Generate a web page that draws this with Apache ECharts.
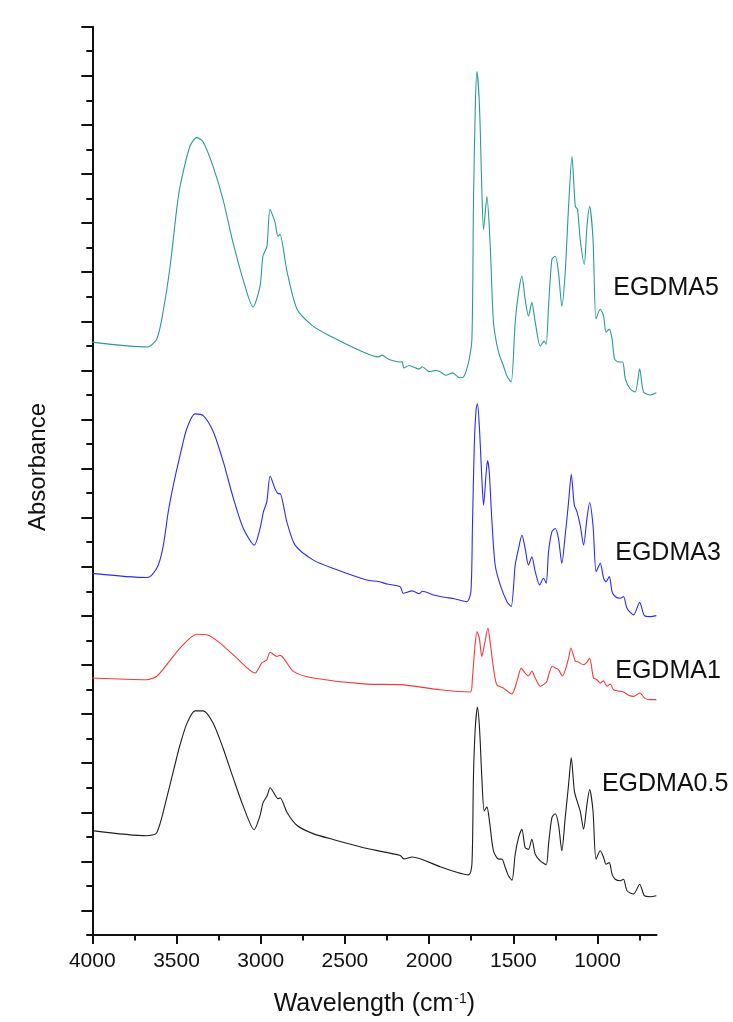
<!DOCTYPE html>
<html><head><meta charset="utf-8">
<script src="https://cdn.jsdelivr.net/npm/echarts@6/dist/echarts.min.js"></script>
<style>html,body{margin:0;padding:0;background:#fff}#c{width:733px;height:1022px}</style>
</head><body><div id="c"></div>
<script>
// ---------- data ----------
const seriesNames = ['EGDMA5', 'EGDMA3', 'EGDMA1', 'EGDMA0.5'];
const xMajorTicks = [4000, 3500, 3000, 2500, 2000, 1500, 1000];
const xMinorTicks = [3750, 3250, 2750, 2250, 1750, 1250, 750];

const egdma5Wn  = [4000,3675,3617,3580,3538,3499,3479,3421,3380,3343,3283,3224,3165,3105,3046,3004,2987,2963,2945,2915,2898,2886,2843,2784,2689,2588,2392,2300,2280,2240,2172,2160,2150,2120,2060,2040,2000,1960,1934,1900,1860,1820,1796,1766,1746,1737,1726,1716,1701,1687,1677,1657,1637,1618,1588,1558,1538,1513,1489,1469,1449,1430,1410,1390,1370,1340,1317,1305,1291,1271,1251,1232,1212,1192,1172,1152,1132,1119,1103,1079,1063,1047,1027,1009,984,964,950,930,914,899,875,851,835,806,776,750,727,687,651];
const egdma5Abs = [24.15,23.95,24.28,25.37,27.24,29.56,30.49,32.12,32.48,32.32,31.31,29.97,28.22,26.71,25.58,26.43,27.65,28.05,29.56,29.03,28.46,28.54,27.00,25.49,24.80,24.40,23.75,23.55,23.62,23.45,23.34,23.35,23.10,23.20,23.05,23.15,22.95,23.00,22.94,22.80,22.90,22.70,22.73,23.34,24.28,29.68,33.74,35.17,33.74,30.36,28.74,30.08,28.05,24.96,23.74,23.17,22.77,22.53,24.96,26.18,26.83,25.90,25.21,25.77,24.96,23.99,24.19,24.07,25.61,27.52,27.65,27.00,25.61,27.00,29.68,31.71,29.68,29.56,28.34,27.32,28.86,29.68,28.34,25.09,25.49,25.21,24.56,24.68,24.28,23.47,23.34,23.34,22.65,22.24,22.12,23.06,22.12,22.00,22.09];

const egdma3Wn  = [4000,3677,3647,3608,3578,3549,3519,3479,3439,3390,3341,3281,3222,3162,3103,3038,3004,2984,2964,2944,2915,2895,2885,2845,2796,2687,2568,2370,2300,2250,2172,2154,2100,2060,2040,1974,1934,1900,1850,1776,1752,1743,1732,1721,1713,1701,1687,1677,1661,1653,1643,1627,1608,1578,1538,1513,1489,1469,1449,1430,1410,1390,1370,1344,1321,1305,1291,1271,1251,1232,1212,1192,1172,1156,1138,1122,1103,1083,1063,1047,1027,1008,984,964,950,930,914,895,865,846,825,786,750,722,687,651];
const egdma3Abs = [14.73,14.56,14.66,15.07,15.88,17.24,18.32,19.54,20.62,21.23,21.16,20.49,19.27,17.78,16.56,15.88,16.56,17.24,17.64,18.70,18.18,17.98,17.98,16.83,15.88,15.27,14.93,14.46,14.40,14.30,14.19,13.92,14.02,13.90,14.00,13.85,13.79,13.75,13.70,13.58,13.99,16.56,19.94,21.43,21.64,20.62,18.59,17.51,18.86,19.33,18.86,16.83,15.07,14.26,13.58,13.38,15.07,15.75,16.29,15.75,15.07,15.41,14.80,14.26,14.53,14.33,15.61,16.43,16.56,16.15,15.14,16.29,17.64,18.77,17.51,17.24,16.69,15.88,16.97,17.62,16.69,14.80,15.14,14.53,14.39,14.60,13.99,13.79,13.72,13.79,13.31,13.04,13.55,13.01,12.97,13.01];

const egdma1Wn  = [4000,3677,3617,3558,3479,3380,3320,3241,3142,3033,2994,2964,2944,2905,2885,2806,2687,2370,2172,1934,1756,1743,1729,1716,1702,1687,1670,1651,1637,1618,1598,1560,1509,1479,1453,1430,1410,1390,1370,1340,1317,1301,1287,1269,1248,1230,1209,1192,1172,1158,1132,1115,1083,1063,1047,1024,1004,984,966,944,925,905,877,846,818,786,750,717,687,651];
const egdma1Abs = [10.47,10.40,10.54,11.01,11.69,12.25,12.23,11.89,11.28,10.67,11.08,11.21,11.52,11.35,11.39,10.74,10.47,10.22,10.20,9.99,9.90,10.47,11.69,12.36,12.09,11.35,11.89,12.50,11.89,10.87,10.19,10.06,9.82,10.33,10.87,10.67,10.55,10.75,10.47,10.13,10.22,10.33,10.67,10.95,10.87,10.79,10.55,10.79,11.28,11.69,11.15,11.12,11.01,11.12,11.28,10.47,10.40,10.26,10.35,10.13,10.22,9.99,9.94,9.90,9.78,9.72,9.86,9.63,9.59,9.59];

const egdma05Wn  = [4000,3677,3617,3558,3499,3479,3437,3390,3342,3283,3224,3164,3105,3039,3004,2986,2962,2944,2915,2897,2885,2843,2784,2689,2570,2368,2172,2150,2100,1934,1766,1746,1737,1726,1713,1701,1687,1673,1657,1642,1618,1588,1568,1548,1529,1508,1489,1469,1449,1430,1410,1390,1370,1340,1305,1291,1271,1251,1232,1212,1192,1172,1156,1138,1122,1103,1083,1063,1047,1027,1009,984,964,950,930,914,895,865,846,825,786,750,722,687,651];
const egdma05Abs = [4.25,4.04,4.17,5.59,7.22,7.75,8.64,9.13,9.13,8.64,7.62,6.41,5.27,4.29,4.86,5.39,5.67,6.00,5.71,5.55,5.59,4.98,4.46,4.13,3.89,3.52,3.24,3.10,3.18,2.78,2.45,2.88,6.41,8.44,9.28,8.44,6.41,5.05,5.22,4.65,3.43,3.09,3.09,2.75,2.41,2.23,3.29,3.97,4.31,3.56,3.49,3.90,3.29,3.02,2.86,3.70,4.78,4.94,4.51,3.43,4.78,6.13,7.22,5.87,5.46,5.05,4.31,5.32,5.93,5.05,3.09,3.43,3.16,2.88,2.95,2.48,2.27,2.21,2.27,1.80,1.67,2.07,1.60,1.56,1.60];

// ---------- chart ----------
const colors = ['#2a9a94', '#2b2bf2', '#f23a3a', '#1e1e1e'];
const wnLists = [egdma5Wn, egdma3Wn, egdma1Wn, egdma05Wn];
const absLists = [egdma5Abs, egdma3Abs, egdma1Abs, egdma05Abs];
const yMajor = Array.from({length: 19}, (_, i) => 2 * i + 1);
const FONT = '"Liberation Sans", Arial, sans-serif';
const AX = '#111';

const chart = echarts.init(document.getElementById('c'), null, {renderer: 'canvas'});
const baseX = {
  type: 'value', inverse: true, min: 650, max: 4000, position: 'bottom',
  splitLine: {show: false}
};
chart.setOption({
  backgroundColor: '#ffffff',
  animation: false,
  grid: {left: 92.3, top: 26.7, right: 76.5, bottom: 84.3, containLabel: false},
  xAxis: [
    Object.assign({}, baseX, {
      axisLine: {lineStyle: {color: AX, width: 2}},
      axisTick: {customValues: xMajorTicks, length: 9, lineStyle: {color: AX, width: 2}},
      axisLabel: {customValues: xMajorTicks, fontSize: 21, color: AX, fontFamily: FONT, margin: 16,
                  formatter: v => String(v)},
      name: '{a|Wavelength (cm}{s|-1}{a|)}',
      nameLocation: 'middle', nameGap: 57,
      nameTextStyle: {rich: {
        a: {fontSize: 25, fontFamily: FONT, color: AX},
        s: {fontSize: 14, fontFamily: FONT, color: AX, verticalAlign: 'top', padding: [0, 0, 9, 1]}
      }}
    }),
    Object.assign({}, baseX, {
      axisLine: {show: false},
      axisTick: {customValues: xMinorTicks, length: 5.5, lineStyle: {color: AX, width: 2}},
      axisLabel: {show: false}
    })
  ],
  yAxis: [
    {type: 'value', min: 0, max: 37, interval: 1,
     axisLine: {show: true, lineStyle: {color: AX, width: 2}},
     axisTick: {show: true, length: 6, lineStyle: {color: AX, width: 2}},
     axisLabel: {show: false}, splitLine: {show: false}},
    {type: 'value', min: 0, max: 37, position: 'left',
     axisLine: {show: false},
     axisTick: {show: true, customValues: yMajor, length: 11, lineStyle: {color: AX, width: 2}},
     axisLabel: {show: false}, splitLine: {show: false}}
  ],
  series: seriesNames.map((n, i) => ({
    name: n, type: 'line', xAxisIndex: 0, yAxisIndex: 0,
    showSymbol: false, smooth: 0.25,
    lineStyle: {color: colors[i], width: 1.1},
    data: wnLists[i].map((w, k) => [w, absLists[i][k]])
  }))
});

// series labels, anchored in data coordinates
const labelAnchors = [[907, 26.34], [895, 15.54], [895, 10.73], [974, 6.16]];
const graphics = labelAnchors.map((a, i) => {
  const p = chart.convertToPixel({xAxisIndex: 0, yAxisIndex: 0}, a);
  return {type: 'text', x: p[0], y: p[1],
    style: {text: seriesNames[i], font: '25px ' + FONT, fill: AX, align: 'left', verticalAlign: 'middle'}};
});
graphics.push({type: 'text', x: 38, y: 467, rotation: Math.PI / 2,
  style: {text: 'Absorbance', font: '24px ' + FONT, fill: AX, align: 'center', verticalAlign: 'middle'}});
chart.setOption({graphic: graphics});
</script>
</body></html>
